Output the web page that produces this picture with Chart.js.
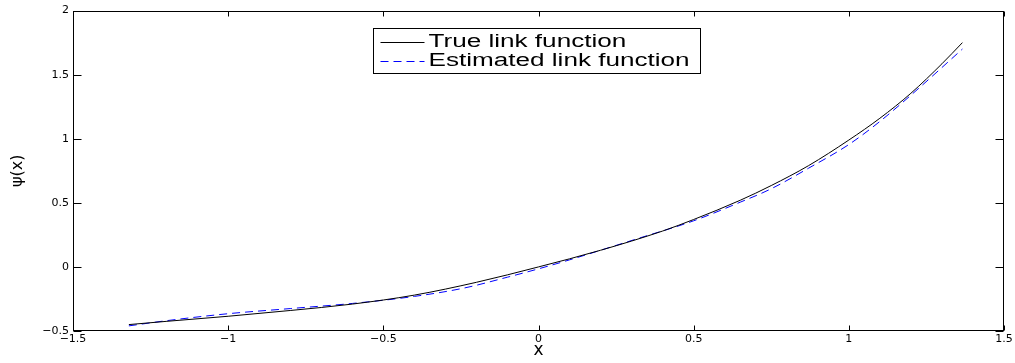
<!DOCTYPE html>
<html>
<head>
<meta charset="utf-8">
<script src="https://cdn.jsdelivr.net/npm/chart.js@4.4.0/dist/chart.umd.min.js"></script>
<style>
  html, body { margin: 0; padding: 0; background: #fff; }
  #wrap { width: 1015px; height: 363px; position: relative; }
</style>
</head>
<body>
<div id="wrap"><canvas id="myChart"></canvas></div>
<script>
// values
var trueX = [-1.32, -1.2, -1.0, -0.8, -0.6, -0.4, -0.2, 0, 0.2, 0.4, 0.5, 0.65, 0.75, 0.87, 1.0, 1.1, 1.2, 1.3, 1.366];
var trueY = [-0.45, -0.425, -0.385, -0.34, -0.29, -0.22, -0.12, 0, 0.13, 0.28, 0.37, 0.52, 0.635, 0.79, 0.99, 1.16, 1.355, 1.585, 1.75];

var estX = [-1.32, -1.2, -1.0, -0.8, -0.6, -0.4, -0.24, -0.1, 0, 0.1, 0.2, 0.325, 0.5, 0.65, 0.75, 0.87, 1.0, 1.1, 1.2, 1.366];
var estY = [-0.46, -0.42, -0.365, -0.325, -0.285, -0.23, -0.165, -0.08, -0.015, 0.055, 0.13, 0.225, 0.36, 0.505, 0.61, 0.77, 0.955, 1.135, 1.34, 1.70];

var xTicks = [-1.5, -1, -0.5, 0, 0.5, 1, 1.5];
var yTicks = [-0.5, 0, 0.5, 1, 1.5, 2];
var legendLabels = ['True link function', 'Estimated link function'];

const ctx = document.getElementById('myChart');

function pts(xs, ys){
    return xs.map(function(x, i){ return {x: x, y: ys[i]}; });
}
function fmt(v){
    return String(v).replace('-', '\u2212');
}

// matlab style box, inward ticks and legend
var boxPlugin = {
    id: 'box',
    afterDatasetsDraw: function(chart){
        var c = chart.ctx, a = chart.chartArea;
        var sx = chart.scales.x, sy = chart.scales.y;
        var L = Math.round(a.left) + 0.5, R = Math.round(a.right) - 0.5;
        var T = Math.round(a.top) + 0.5, B = Math.round(a.bottom) - 0.5;
        c.save();
        c.strokeStyle = '#000';
        c.lineWidth = 1;
        c.beginPath();
        xTicks.forEach(function(v){
            var p = Math.round(sx.getPixelForValue(v)) + 0.5;
            c.moveTo(p, B); c.lineTo(p, B - 5);
            c.moveTo(p, T); c.lineTo(p, T + 5);
        });
        yTicks.forEach(function(v){
            var p = Math.round(sy.getPixelForValue(v)) + 0.5;
            c.moveTo(L, p); c.lineTo(L + 8, p);
            c.moveTo(R, p); c.lineTo(R - 8, p);
        });
        c.stroke();
        c.strokeRect(L, T, R - L, B - T);

        // legend
        var lx = L + 300, ly = T + 17, lw = 327, lh = 45;
        c.fillStyle = '#fff';
        c.fillRect(lx, ly, lw, lh);
        c.strokeRect(lx, ly, lw, lh);
        var ds = chart.data.datasets;
        for (var i = 0; i < legendLabels.length; i++){
            var yy = ly + 13 + i * 19;
            c.strokeStyle = ds[i].borderColor;
            c.setLineDash(ds[i].borderDash || []);
            c.beginPath();
            c.moveTo(lx + 7, Math.round(yy) + 0.5);
            c.lineTo(lx + 51, Math.round(yy) + 0.5);
            c.stroke();
            c.setLineDash([]);
            c.save();
            c.translate(lx + 55, yy);
            c.scale(1.45, 1);
            c.fillStyle = '#000';
            c.font = '18px "Liberation Sans", Arial, sans-serif';
            c.textBaseline = 'middle';
            c.fillText(legendLabels[i], 0, 1);
            c.restore();
        }
        c.restore();
    }
};

var data = {
    type: 'line',
    data: {
        datasets: [{
            label: legendLabels[0],
            data: pts(trueX, trueY),
            borderColor: '#000000',
            borderWidth: 1,
            pointRadius: 0,
            fill: false,
            cubicInterpolationMode: 'monotone'
        }, {
            label: legendLabels[1],
            data: pts(estX, estY),
            borderColor: '#0000ff',
            borderWidth: 1,
            borderDash: [8, 5],
            pointRadius: 0,
            fill: false,
            cubicInterpolationMode: 'monotone'
        }]
    },
    options: {
        responsive: true,
        maintainAspectRatio: false,
        animation: false,
        layout: { padding: { left: 0, right: 11, top: 10, bottom: 0 } },
        plugins: {
            legend: { display: false },
            tooltip: { enabled: false }
        },
        scales: {
            x: {
                type: 'linear',
                min: -1.5,
                max: 1.5,
                afterBuildTicks: function(s){ s.ticks = xTicks.map(function(v){ return {value: v}; }); },
                afterFit: function(s){ s.height = 32; },
                grid: { display: false, drawTicks: false },
                border: { display: false },
                ticks: {
                    color: '#000',
                    font: { family: 'DejaVu Sans', size: 11 },
                    padding: 2,
                    maxRotation: 0,
                    autoSkip: false,
                    callback: function(v){ return fmt(v); }
                },
                title: {
                    display: true,
                    text: 'x',
                    color: '#000',
                    font: { family: 'DejaVu Sans', size: 17 },
                    padding: { top: 0, bottom: 2 }
                }
            },
            y: {
                min: -0.5,
                max: 2,
                afterBuildTicks: function(s){ s.ticks = yTicks.map(function(v){ return {value: v}; }); },
                afterFit: function(s){ s.width = 73; },
                grid: { display: false, drawTicks: false },
                border: { display: false },
                ticks: {
                    color: '#000',
                    font: { family: 'DejaVu Sans', size: 11 },
                    padding: 4,
                    autoSkip: false,
                    callback: function(v){ return fmt(v); }
                },
                title: {
                    display: true,
                    text: '\u03c8(x)',
                    color: '#000',
                    font: { family: 'DejaVu Sans', size: 16 },
                    padding: { top: 8, bottom: 0 }
                }
            }
        }
    },
    plugins: [boxPlugin]
};

var myChart = new Chart(ctx, data);
</script>
</body>
</html>
